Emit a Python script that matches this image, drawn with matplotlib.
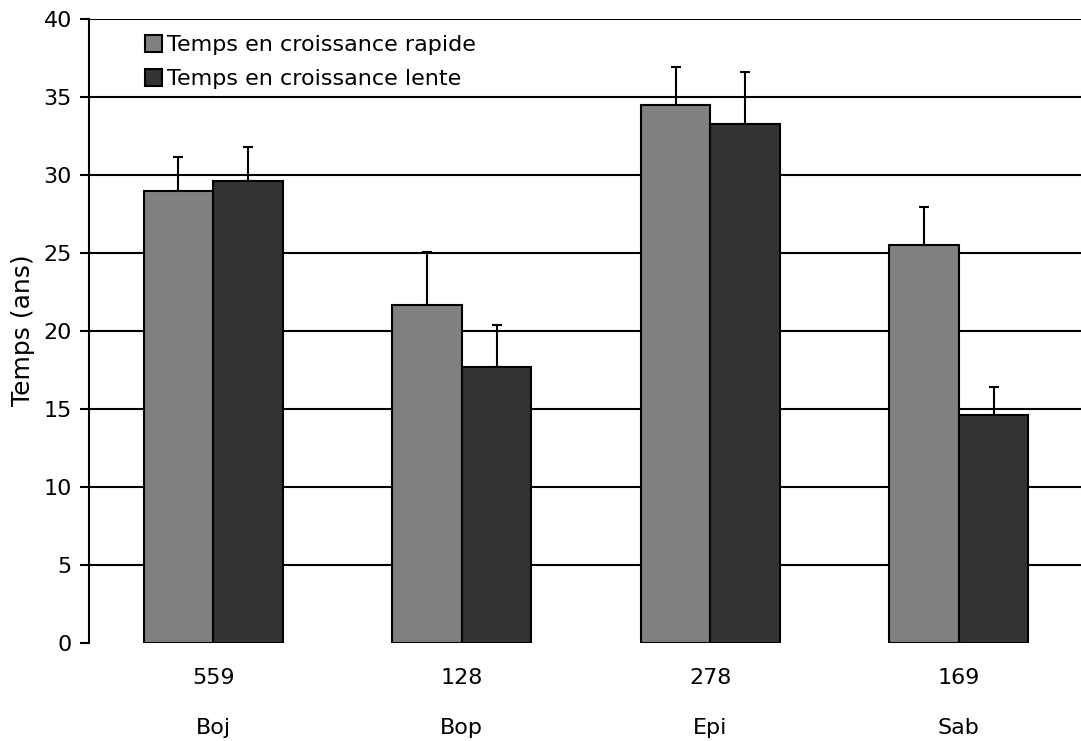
import matplotlib
matplotlib.use("Agg")
import matplotlib.pyplot as plt
import numpy as np

# Species, sample sizes and growth-phase durations (years)
species = ["Boj", "Bop", "Epi", "Sab"]
sample_sizes = [559, 128, 278, 169]
rapid_mean = [29.0, 21.7, 34.5, 25.5]
rapid_err = [2.2, 3.4, 2.45, 2.45]
slow_mean = [29.6, 17.7, 33.3, 14.6]
slow_err = [2.2, 2.7, 3.35, 1.8]
series_labels = ["Temps en croissance rapide", "Temps en croissance lente"]
y_ticks = [0, 5, 10, 15, 20, 25, 30, 35, 40]

plt.rcParams["font.family"] = ["DejaVu Sans"]
FS = 16

W, H = 1081, 741
AX_W = W - 89
AX_H = 643 - 19.3
fig = plt.figure(figsize=(W / 100, H / 100), dpi=100)
ax = fig.add_axes([89 / W, 98 / H, AX_W / W + 0.002, AX_H / H])

x = np.arange(len(species))
bw = 0.28
lw = 1.5
err_kw = dict(ecolor="black", elinewidth=lw, capthick=lw)

ax.bar(x - bw / 2, rapid_mean, bw, color="#808080", edgecolor="black",
       linewidth=lw, label=series_labels[0], zorder=2)
ax.bar(x + bw / 2, slow_mean, bw, color="#333333", edgecolor="black",
       linewidth=lw, label=series_labels[1], zorder=2)
ax.errorbar(x - bw / 2, rapid_mean, yerr=[np.zeros(len(x)), rapid_err],
            fmt="none", capsize=3.3, zorder=1, **err_kw)
ax.errorbar(x + bw / 2, slow_mean, yerr=[np.zeros(len(x)), slow_err],
            fmt="none", capsize=3.3, zorder=1, **err_kw)

ax.set_xlim(-0.5, len(species) - 0.5)
ax.set_ylim(0, 40)
ax.set_yticks(y_ticks)

# horizontal gridlines above zero
for v in y_ticks[1:]:
    ax.axhline(v, color="black", linewidth=lw, zorder=0.5)

ax.tick_params(axis="y", direction="out", length=6.5, width=lw,
               pad=5.8, labelsize=FS)
ax.set_xticks(x)
ax.set_xticklabels([str(n) for n in sample_sizes], fontsize=FS)
ax.tick_params(axis="x", length=0, pad=18.2)

for i, name in enumerate(species):
    ax.annotate(name, xy=(x[i], 0), xycoords=("data", "axes fraction"),
                xytext=(0, -61.2), textcoords="offset points",
                ha="center", va="center", fontsize=FS)

for s in ["top", "right", "bottom"]:
    ax.spines[s].set_visible(False)
ax.spines["left"].set_linewidth(lw)

ax.set_ylabel("Temps (ans)", fontsize=18)
ax.yaxis.set_label_coords(-54 / AX_W, (643 - 330) / AX_H)

ax.legend(loc="upper left", bbox_to_anchor=(56 / AX_W, 1 - 16 / AX_H),
          frameon=False, fontsize=FS, handlelength=0.77,
          handleheight=0.77, handletextpad=0.23, labelspacing=0.62,
          borderaxespad=0, borderpad=0)

fig.savefig("out.png", dpi=100)
